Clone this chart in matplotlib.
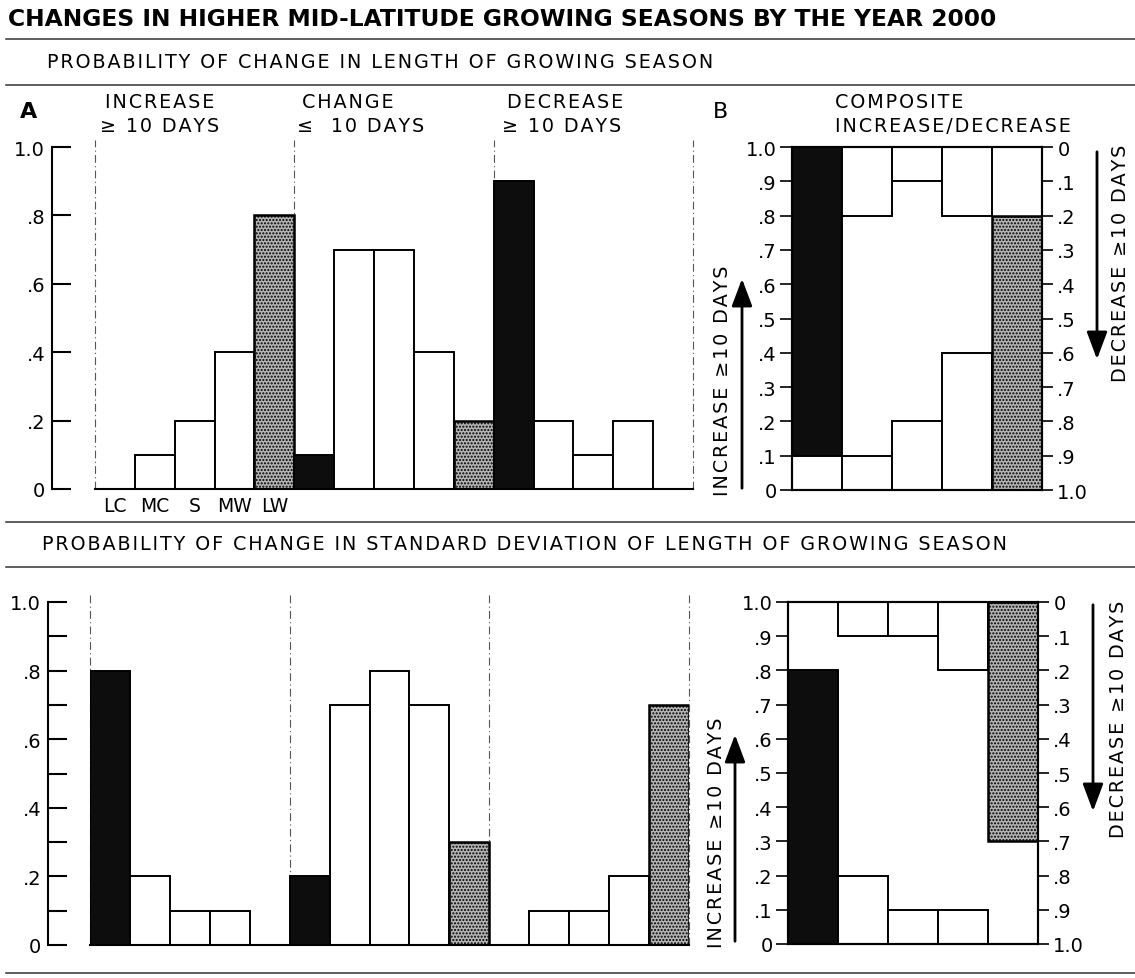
import matplotlib
matplotlib.use('Agg')
import matplotlib.pyplot as plt
from matplotlib.patches import FancyArrowPatch

W, H = 1135, 979

title = 'CHANGES IN HIGHER MID-LATITUDE GROWING SEASONS BY THE YEAR 2000'
section_top = 'PROBABILITY OF CHANGE IN LENGTH OF GROWING SEASON'
section_bottom = 'PROBABILITY OF CHANGE IN STANDARD DEVIATION OF LENGTH OF GROWING SEASON'
groups = ['INCREASE', 'CHANGE', 'DECREASE']
limits = ['\u2265 10 DAYS', '\u2264  10 DAYS', '\u2265 10 DAYS']
classes = ['LC', 'MC', 'S', 'MW', 'LW']

# length of growing season
len_increase = [0.0, 0.1, 0.2, 0.4, 0.8]
len_change = [0.1, 0.7, 0.7, 0.4, 0.2]
len_decrease = [0.9, 0.2, 0.1, 0.2, 0.0]

# standard deviation of length of growing season
sd_increase = [0.8, 0.2, 0.1, 0.1, 0.0]
sd_change = [0.2, 0.7, 0.8, 0.7, 0.3]
sd_decrease = [0.0, 0.1, 0.1, 0.2, 0.7]

a_ticks = [0, 0.2, 0.4, 0.6, 0.8, 1.0]
a_labels = ['0', '.2', '.4', '.6', '.8', '1.0']
b_ticks = [0, 0.1, 0.2, 0.3, 0.4, 0.5, 0.6, 0.7, 0.8, 0.9, 1.0]
b_left = ['0', '.1', '.2', '.3', '.4', '.5', '.6', '.7', '.8', '.9', '1.0']
b_right = ['1.0', '.9', '.8', '.7', '.6', '.5', '.4', '.3', '.2', '.1', '0']

plt.rcParams['font.family'] = ['DejaVu Sans']
LW = 1.4
FS = 13.8   # the light lettering of the original


def rect(left, top, right, bottom):
    return [left / W, 1 - bottom / H, (right - left) / W, (bottom - top) / H]


def fxy(x, y):
    return (x / W, 1 - y / H)


def spaced(s):
    # the original type is set with loose letter spacing
    return '\u200a'.join(s)


def bar_style(cls):
    if cls == 'LC':
        return dict(color='#0d0d0d', edgecolor='black', linewidth=LW)
    if cls == 'LW':
        return dict(color='#b4b4b4', edgecolor='black', linewidth=LW * 1.3, hatch='.....')
    return dict(color='white', edgecolor='black', linewidth=LW)


fig = plt.figure(figsize=(W / 100, H / 100), dpi=100)


def group_panel(r, inc, chg, dec, spine_px, ticks, labels, show_classes):
    ax = fig.add_axes(r)
    ax.set_xlim(-0.5, 14.5)
    ax.set_ylim(0, 1)
    for g, vals in enumerate([inc, chg, dec]):
        for i, v in enumerate(vals):
            if v > 0:
                ax.bar(g * 5 + i, v, width=1, **bar_style(classes[i]))
    for b in [-0.5, 4.5, 9.5, 14.5]:
        ax.axvline(b, 0, 1.02, color='#555555', lw=0.8,
                   ls=(0, (7, 3, 1, 3)), clip_on=False, zorder=0)
    for s in ['top', 'right']:
        ax.spines[s].set_visible(False)
    ax.spines['left'].set_position(('outward', spine_px * 0.72))
    ax.spines['left'].set_linewidth(1.5)
    ax.spines['bottom'].set_linewidth(1.5)
    ax.set_yticks(ticks, labels)
    ax.tick_params(axis='y', direction='in', length=14, width=1.5, pad=5, labelsize=14)
    if show_classes:
        ax.set_xticks(range(5), classes)
        ax.tick_params(axis='x', length=0, pad=5, labelsize=13.5)
    else:
        ax.set_xticks([])
    return ax


def composite_panel(r, inc, dec):
    ax = fig.add_axes(r)
    ax.set_xlim(-0.5, 4.5)
    ax.set_ylim(0, 1)
    for i, cls in enumerate(classes):
        if inc[i] > 0:
            ax.bar(i, inc[i], width=1, **bar_style(cls))
        if dec[i] > 0:
            ax.bar(i, dec[i], width=1, bottom=1 - dec[i], **bar_style(cls))
    for s in ax.spines.values():
        s.set_linewidth(1.5)
    ax.set_xticks([])
    ax.set_yticks(b_ticks, b_left)
    ax.tick_params(axis='y', direction='out', length=9, width=1.2, pad=2, labelsize=14)
    ax2 = ax.twinx()
    ax2.set_ylim(0, 1)
    ax2.set_yticks(b_ticks, b_right)
    ax2.tick_params(axis='y', direction='out', length=8, width=1.2, pad=3, labelsize=14)
    for s in ax2.spines.values():
        s.set_linewidth(1.5)
    return ax


# header
fig.text(8 / W, 1 - 19 / H, title, fontsize=16.8, fontweight='bold', va='center', ha='left')
for y in [40, 86, 523, 568, 974]:
    fig.add_artist(plt.Line2D([6 / W, 1], [1 - y / H] * 2, color='#333333', lw=1.1))
fig.text(47 / W, 1 - 62 / H, spaced(section_top), fontsize=FS, va='center', ha='left')
fig.text(42 / W, 1 - 545 / H, spaced(section_bottom), fontsize=FS, va='center', ha='left')

fig.text(20 / W, 1 - 112 / H, 'A', fontsize=16, fontweight='bold', va='center')
fig.text(713 / W, 1 - 112 / H, 'B', fontsize=16, va='center')
for x, g, lim in zip([105, 302, 507], groups, limits):
    fig.text(x / W, 1 - 102 / H, spaced(g), fontsize=FS, va='center')
    fig.text((x - 5) / W, 1 - 126 / H, spaced(lim), fontsize=FS, va='center')
fig.text(835 / W, 1 - 103 / H, spaced('COMPOSITE'), fontsize=FS, va='center')
fig.text(835 / W, 1 - 127 / H, spaced('INCREASE/DECREASE'), fontsize=FS, va='center')

# panels A
group_panel(rect(95, 148, 693, 490), len_increase, len_change, len_decrease,
            43, a_ticks, a_labels, True)
group_panel(rect(90, 603, 689, 946), sd_increase, sd_change, sd_decrease,
            42, b_ticks, [l if i % 2 == 0 else '' for i, l in enumerate(b_left)], False)

# panels B
composite_panel(rect(792, 148, 1042, 491), len_increase, len_decrease)
composite_panel(rect(788, 603, 1038, 945), sd_increase, sd_decrease)

# side labels and arrows
side = [(722, 381, 742, 492, 277, 1121, 263, 1097, 150, 363),
        (716, 833, 735, 945, 733, 1118, 719, 1093, 603, 815)]
for tx, ty, axx, ay0, ay1, dx, dy, dax, dy0, dy1 in side:
    fig.text(tx / W, 1 - ty / H, spaced('INCREASE \u226510 DAYS'), rotation=90,
             fontsize=FS, va='center', ha='center')
    fig.text(dx / W, 1 - dy / H, spaced('DECREASE \u226510 DAYS'), rotation=90,
             fontsize=FS, va='center', ha='center')
    for p0, p1 in [(fxy(axx, ay0), fxy(axx, ay1)), (fxy(dax, dy0), fxy(dax, dy1))]:
        fig.add_artist(FancyArrowPatch(p0, p1, transform=fig.transFigure,
                                       arrowstyle='-|>,head_length=1.2,head_width=0.45',
                                       mutation_scale=14, lw=2, color='black'))

fig.savefig('out.png', dpi=100)
